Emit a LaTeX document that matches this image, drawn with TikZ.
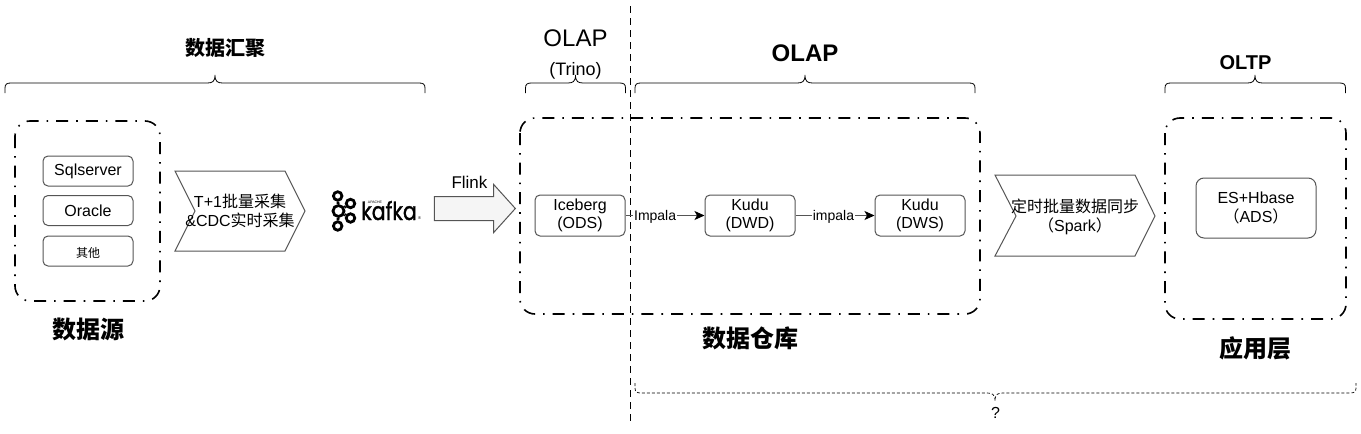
\documentclass[tikz,border=0pt]{standalone}
\usepackage{fontspec}
\setmainfont{Liberation Sans}
\newfontfamily\cjk{Noto Sans CJK SC}
\newfontfamily\logofont[FakeBold=1.5]{Poppins}
\usetikzlibrary{arrows.meta,shapes.arrows}
\definecolor{box line color}{HTML}{555555}
\tikzset{
    x={1pt},
    y={-1pt},
    zone/.style={
        draw=black,
        line width={1.6pt},
        rounded corners={15pt},
        dash pattern=on 12pt off 8pt on 1.6pt off 8pt,
    },
    plain box/.style={
        draw=box line color,
        rectangle, rounded corners={5pt},
        line width={1pt},
        align=center,
        inner sep=0pt,
        font={\fontsize{16}{18.7}\selectfont},
        minimum width={90},
        minimum height={41},
    },
    store/.style={
        plain box,
        execute at begin node={\rule{0pt}{15pt}},
    },
    source/.style={
        plain box,
        minimum height={30},
        execute at begin node={\rule{0pt}{13pt}},
    },
    stage/.style={
        draw=box line color,
        line width={1pt},
    },
    stage label/.style={
        align=center,
        inner sep=0pt,
        font={\fontsize{16}{19}\selectfont},
    },
    flow/.style={
        draw=box line color,
        line width={1pt},
        -{Stealth[length=10pt,width=9pt,inset=2.5pt,black]},
    },
    flow label/.style={
        fill=white,
        inner xsep=1pt, inner ysep=0pt,
        yshift=-1pt,
        font={\fontsize{14}{16}\selectfont},
    },
    group brace/.style={
        draw=black,
        line width={0.8pt},
    },
    caption/.style={
        inner sep=0pt,
        font={\cjk\bfseries\fontsize{24}{26}\selectfont},
    },
    logo ring/.style={
        circle, draw=black,
        line width={2.8pt},
        inner sep=0pt,
        minimum size={#1},
    },
    logo ring/.default={10},
}
% left end, tip, right end, height of the ends, direction
\newcommand{\groupbrace}[6][]{
    \path[group brace,#1] (#2,#5) -- (#2,#5-5*#6) .. controls (#2,#5-9*#6) and (#2+2,#5-10*#6) .. (#2+6,#5-10*#6)
        -- (#3-8,#5-10*#6) .. controls (#3-3,#5-10*#6) and (#3,#5-11*#6) .. (#3,#5-18*#6)
        .. controls (#3,#5-11*#6) and (#3+3,#5-10*#6) .. (#3+8,#5-10*#6)
        -- (#4-6,#5-10*#6) .. controls (#4-2,#5-10*#6) and (#4,#5-9*#6) .. (#4,#5-5*#6) -- (#4,#5);
}

\begin{document}
\begin{tikzpicture}
\useasboundingbox (0,0) rectangle (1361,434);
% zones
\path[zone] (15,121) rectangle (160,301);
\path[zone] (520,118) rectangle (980,314);
\path[zone] (1165,118) rectangle (1346,319);
% divider
\coordinate (divider top) at (630.5,6);
\coordinate (divider bottom) at (630.5,422);
\draw[line width={1.9pt},dash pattern=on 7pt off 5pt] (divider top) -- (divider bottom);
% braces
\groupbrace{5}{215}{425}{93}{1}
\groupbrace{525.5}{575.5}{625.5}{93}{1}
\groupbrace{635}{805}{975}{93}{1}
\groupbrace{1165}{1255}{1345.5}{93}{1}
\groupbrace[line width={0.7pt},dash pattern=on 3pt off 2pt]{635}{995}{1356}{383}{-1}
% brace labels
\node[font={\cjk\bfseries\fontsize{20}{22}\selectfont},inner sep=0pt] (collect) at (225,48) {数据汇聚};
\node[font={\fontsize{24}{26}\selectfont},inner sep=0pt] (olap trino) at (575.5,38) {OLAP};
\node[font={\fontsize{18}{20}\selectfont},inner sep=0pt] (trino) at (575.5,71) {(Trino)};
\node[font={\bfseries\fontsize{24}{26}\selectfont},inner sep=0pt] (olap) at (805,53) {OLAP};
\node[font={\bfseries\fontsize{20}{22}\selectfont},inner sep=0pt] (oltp) at (1245.5,63) {OLTP};
\node[font={\fontsize{16}{18}\selectfont},inner sep=0pt] (unknown) at (995.5,413) {?};
% captions
\node[caption] (source caption) at (88.5,329) {数据源};
\node[caption] (warehouse caption) at (750.5,338) {数据仓库};
\node[caption] (app caption) at (1255,348) {应用层};
% sources
\node[source] (sqlserver) at (88,171) {Sqlserver};
\node[source] (oracle) at (88,210.5) {Oracle};
\node[source,font={\cjk\fontsize{12}{14}\selectfont}] (other) at (88,251) {其他};
% stages
\draw[stage] (175,171) -- (285,171) -- (305,211) -- (285,251) -- (175,251) -- (195,211) -- cycle;
\node[stage label] (collect stage) at (240,211) {T+1{\cjk 批量采集}\\\&CDC{\cjk 实时采集}};
\draw[stage] (995,175) -- (1135,175) -- (1155,216) -- (1135,256) -- (995,256) -- (1016,216) -- cycle;
\node[stage label] (sync stage) at (1075,216.5) {{\cjk 定时批量数据同步}\\{\cjk （}Spark{\cjk ）}};
% kafka logo
\node[logo ring={8.5}] (kafka top) at (337.7,196) {};
\node[logo ring={11}] (kafka hub) at (338.5,211) {};
\node[logo ring={8.5}] (kafka bottom) at (337.7,226) {};
\node[logo ring={8.5}] (kafka upper) at (350.5,203.5) {};
\node[logo ring={8.5}] (kafka lower) at (350.5,218) {};
\draw[line width={2.8pt}] (kafka top) -- (kafka hub) -- (kafka bottom);
\draw[line width={2.8pt}] (kafka upper) -- (kafka hub) -- (kafka lower);
\node[inner sep=0pt,anchor=base west,font={\logofont\fontsize{25}{27}\selectfont}] (kafka) at (361,220) {\scalebox{0.82}[1]{kafka}};
\node[inner sep=0pt,font={\fontsize{3.5}{4}\selectfont}] (apache) at (375,202) {APACHE};
\node[inner sep=0pt,font={\fontsize{4}{4}\selectfont}] (registered) at (419.5,218) {®};
% flink
\node[single arrow,draw=box line color,fill=black!4,line width={1pt},
    inner xsep=0pt,inner ysep=11.5pt,
    minimum height={81},single arrow head extend={12},
    single arrow tip angle={96},anchor=tip] (flink arrow) at (516,208.5) {};
\node[inner sep=0pt,font={\fontsize{17}{19}\selectfont}] (flink) at (469.5,182) {Flink};
% warehouse
\node[store] (ods) at (580,215.5) {Iceberg\\(ODS)};
\node[store] (dwd) at (750,215.5) {Kudu\\(DWD)};
\node[store] (dws) at (920,215.5) {Kudu\\(DWS)};
\node[store,minimum width={120},minimum height={60},rounded corners={8pt}] (ads) at (1256,208) {ES+Hbase\\{\cjk （}ADS{\cjk ）}};
\draw[flow] (ods) -- node[flow label,pos=0.375] (impala one) {Impala} (dwd);
\draw[flow] (dwd) -- node[flow label,pos=0.48] (impala two) {impala} (dws);
\end{tikzpicture}
\end{document}
